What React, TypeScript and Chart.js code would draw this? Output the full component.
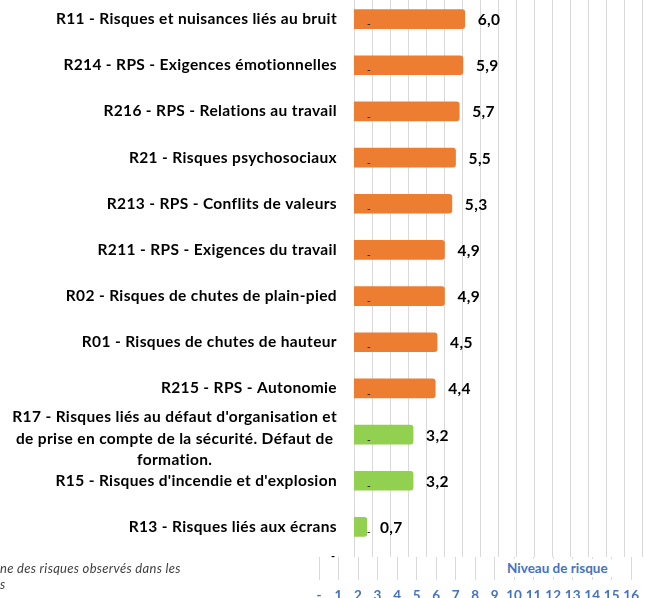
import React, { useEffect, useRef } from 'react';
import { Chart, registerables } from 'chart.js';

Chart.register(...registerables);

// ---- data ----
const categories: string[][] = [
  ['R11 - Risques et nuisances liés au bruit'],
  ['R214 - RPS - Exigences émotionnelles'],
  ['R216 - RPS - Relations au travail'],
  ['R21 - Risques psychosociaux'],
  ['R213 - RPS - Conflits de valeurs'],
  ['R211 - RPS - Exigences du travail'],
  ['R02 - Risques de chutes de plain-pied'],
  ['R01 - Risques de chutes de hauteur'],
  ['R215 - RPS - Autonomie'],
  ["R17 - Risques liés au défaut d'organisation et", 'de prise en compte de la sécurité. Défaut de', 'formation.'],
  ["R15 - Risques d'incendie et d'explosion"],
  ['R13 - Risques liés aux écrans'],
];
const riskValues = [6.0, 5.9, 5.7, 5.5, 5.3, 4.9, 4.9, 4.5, 4.4, 3.2, 3.2, 0.7];
const riskGroups = ['high', 'high', 'high', 'high', 'high', 'high', 'high', 'high', 'high', 'low', 'low', 'low'];
const axisTickLabels = ['-', '1', '2', '3', '4', '5', '6', '7', '8', '9', '10', '11', '12', '13', '14', '15', '16'];
const axisTitle = 'Niveau de risque';
const captionLines = ['ne des risques observés dans les', 's'];

// ---- styles ----
const FONT = 'Lato, "Liberation Sans", sans-serif';
const groupColors: Record<string, string> = { high: '#ED7D31', low: '#92D050' };
const GRID = '#D9D9D9';
const BLUE = '#4472C4';
const LABEL_RIGHT = 337;

const labelPlugin = {
  id: 'labelPlugin',
  afterDraw(chart: any) {
    const ctx = chart.ctx;
    const ys = chart.scales.y;
    const xs = chart.scales.x;
    ctx.save();
    ctx.textBaseline = 'middle';
    categories.forEach((lines, i) => {
      const cy = ys.getPixelForValue(i);
      ctx.fillStyle = '#000';
      ctx.font = `bold 15.5px ${FONT}`;
      (ctx as any).letterSpacing = '0.35px';
      const maxW = Math.max(...lines.map((l) => ctx.measureText(l).width));
      ctx.textAlign = 'center';
      const cx = LABEL_RIGHT - maxW / 2;
      const lh = 21.5;
      const off = lines.length > 1 ? 4 : 0;
      lines.forEach((l, k) => {
        ctx.fillText(l, cx, cy + off + (k - (lines.length - 1) / 2) * lh);
      });
      const v = riskValues[i];
      ctx.textAlign = 'left';
      ctx.font = `bold 15.5px ${FONT}`;
      ctx.fillText(v.toFixed(1).replace('.', ','), xs.getPixelForValue(v) + 13, cy + 1);
      (ctx as any).letterSpacing = '0px';
      ctx.fillStyle = '#333';
      ctx.font = `bold 10px ${FONT}`;
      ctx.fillText('-', xs.getPixelForValue(0) + 13, cy + 5);
    });
    ctx.restore();
  },
};

export default function App() {
  const mainRef = useRef<HTMLCanvasElement>(null);
  const axisRef = useRef<HTMLCanvasElement>(null);

  useEffect(() => {
    Chart.defaults.font.family = FONT;
    const main = new Chart(mainRef.current!, {
      type: 'bar',
      data: {
        labels: categories.map((c) => c.join(' ')),
        datasets: [
          {
            data: riskValues,
            backgroundColor: riskGroups.map((g) => groupColors[g]),
            borderRadius: 3,
            barThickness: 19,
            xAxisID: 'x',
            yAxisID: 'y',
          },
        ],
      },
      options: {
        indexAxis: 'y',
        animation: false,
        responsive: false,
        maintainAspectRatio: false,
        layout: { padding: { left: 354, right: 5, top: 0, bottom: 0 } },
        plugins: { legend: { display: false }, tooltip: { enabled: false } },
        scales: {
          x: { type: 'linear', min: 0, max: 15.6, display: false },
          xg: {
            type: 'linear',
            position: 'bottom',
            min: 0,
            max: 16,
            ticks: { display: false, stepSize: 1 },
            grid: { color: GRID, lineWidth: 1, drawTicks: true, tickLength: 7 },
            border: { display: false },
          },
          y: { display: false },
        },
      } as any,
      plugins: [labelPlugin],
    });

    const axis = new Chart(axisRef.current!, {
      type: 'bar',
      data: { labels: [''], datasets: [{ data: [] as number[] }] },
      options: {
        indexAxis: 'y',
        animation: false,
        responsive: false,
        maintainAspectRatio: false,
        layout: { padding: { left: 319, right: 11, top: 0, bottom: 15 } },
        plugins: { legend: { display: false }, tooltip: { enabled: false } },
        scales: {
          x: {
            type: 'linear',
            min: 0,
            max: 16,
            ticks: {
              stepSize: 1,
              autoSkip: false,
              maxRotation: 0,
              padding: 8,
              color: BLUE,
              font: { weight: 'bold', size: 13.5, family: FONT },
              callback: (_v: any, idx: number) => axisTickLabels[idx],
            },
            grid: { color: GRID, lineWidth: 1, drawTicks: false },
            border: { display: false },
          },
          y: { display: false },
        },
      } as any,
    });

    return () => {
      main.destroy();
      axis.destroy();
    };
  }, []);

  return (
    <div
      style={{
        position: 'fixed',
        left: 0,
        top: 0,
        width: 647,
        height: 598,
        overflow: 'hidden',
        background: '#fff',
        fontFamily: FONT,
      }}
    >
      <canvas ref={mainRef} width={647} height={561} style={{ position: 'absolute', left: 0, top: -4, display: 'block' }} />
      <canvas ref={axisRef} width={647} height={60} style={{ position: 'absolute', left: 0, top: 557, display: 'block' }} />
      <div
        style={{
          position: 'absolute',
          left: 503,
          top: 559,
          width: 114,
          height: 18,
          background: '#fff',
          color: BLUE,
          fontWeight: 'bold',
          fontSize: 13.5,
          lineHeight: '18px',
          paddingLeft: 4,
          boxSizing: 'border-box',
          whiteSpace: 'nowrap',
        }}
      >
        {axisTitle}
      </div>
      <div
        style={{
          position: 'absolute',
          left: 0,
          top: 560,
          color: '#404040',
          fontStyle: 'italic',
          fontSize: 13,
          letterSpacing: '0.3px',
          lineHeight: '16px',
          whiteSpace: 'nowrap',
        }}
      >
        {captionLines.map((l, i) => (
          <div key={i}>{l}</div>
        ))}
      </div>
      <div style={{ position: 'absolute', left: 331, top: 549, fontSize: 11, fontWeight: 'bold', color: '#000' }}>-</div>
    </div>
  );
}
